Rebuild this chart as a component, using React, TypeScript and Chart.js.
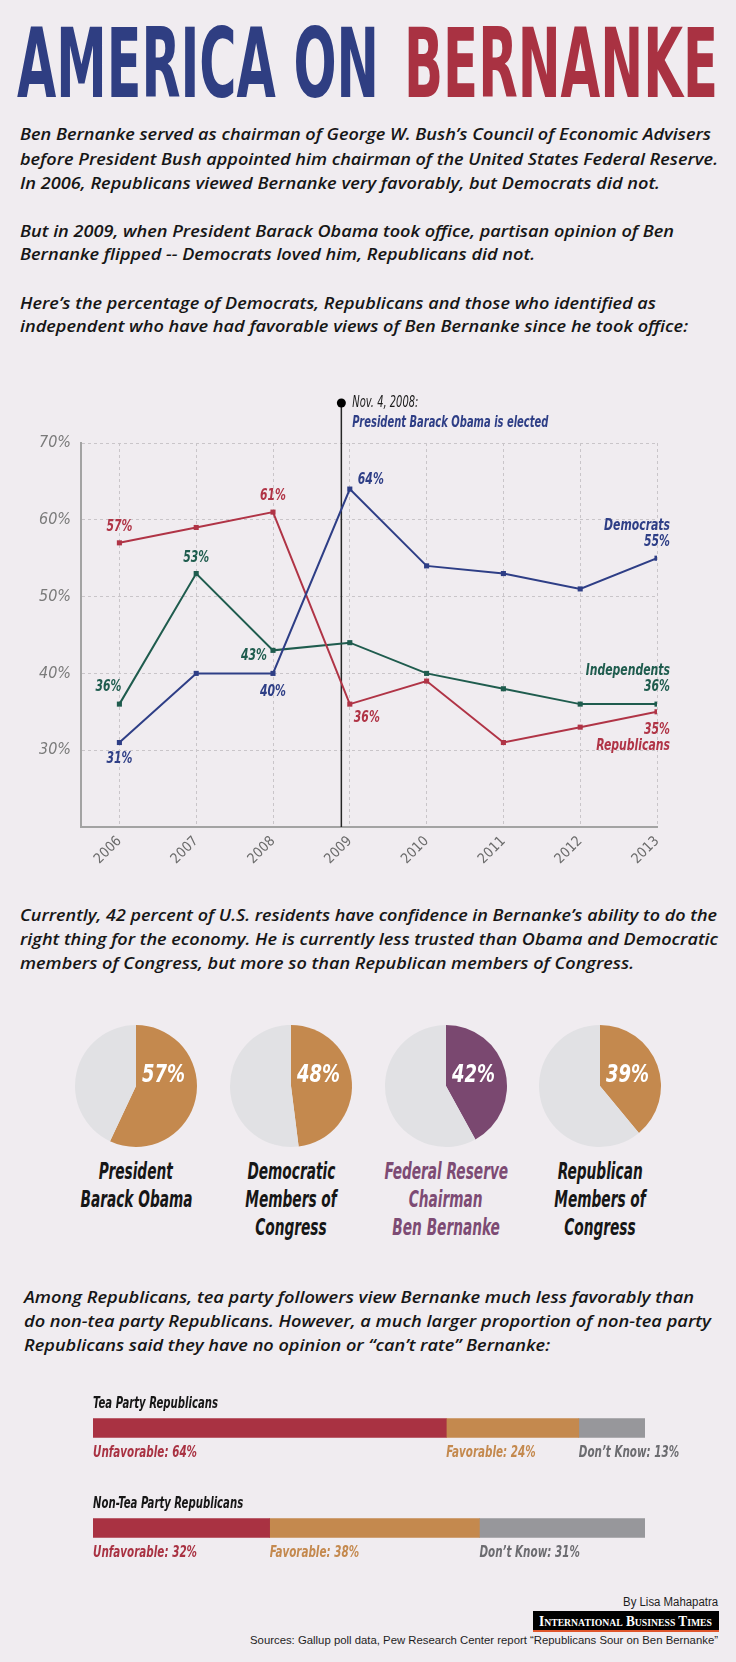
import React, { useEffect, useLayoutEffect, useRef } from 'react';
import { Chart, registerables } from 'chart.js';
Chart.register(...registerables);

// ---------- data ----------
const YEARS = [2006, 2007, 2008, 2009, 2010, 2011, 2012, 2013];
const DEMOCRATS = [31, 40, 40, 64, 54, 53, 51, 55];
const REPUBLICANS = [57, 59, 61, 36, 39, 31, 33, 35];
const INDEPENDENTS = [36, 53, 43, 44, 40, 38, 36, 36];
const Y_TICKS = [20, 30, 40, 50, 60, 70];
const ELECTION_DATE = 2008.89;
const ELECTION_NOTE = 'Nov. 4, 2008:';
const ELECTION_TEXT = 'President Barack Obama is elected';

const PIE_NAMES = [
  ['President', 'Barack Obama'],
  ['Democratic', 'Members of', 'Congress'],
  ['Federal Reserve', 'Chairman', 'Ben Bernanke'],
  ['Republican', 'Members of', 'Congress'],
];
const PIE_VALUES = [57, 48, 42, 39];

const BAR_GROUPS = ['Tea Party Republicans', 'Non-Tea Party Republicans'];
const BAR_SERIES = ['Unfavorable', 'Favorable', 'Don’t Know'];
const UNFAVORABLE = [64, 32];
const FAVORABLE = [24, 38];
const DONT_KNOW = [13, 31];

// ---------- style ----------
const NARROW = "'Liberation Sans Narrow', 'DejaVu Sans Condensed', 'Roboto', sans-serif";
const BODYFONT = "'Open Sans', 'DejaVu Sans Condensed', sans-serif";
const ARIAL = "'Liberation Sans', Arial, sans-serif";
const SERIF = "'Liberation Serif', 'DejaVu Serif', serif";
const BG = '#f0ecf0';
const INK = '#161616';
const T_BLUE = '#2f3e82';
const T_RED = '#a93242';
const BLUE = '#2e3e86';
const RED = '#b03446';
const GREEN = '#1f5c4e';
const TAN = '#c4894e';
const BAR_RED = '#a93242';
const BAR_GRAY = '#97979b';
const PIE_REST = '#e1e1e4';
const PURPLE = '#7a4870';
const PURPLE_TEXT = '#7d4b74';
const GRID = '#c9c5c9';
const AXIS = '#a3a3a3';

// ---------- text component ----------
type TxtProps = {
  x: number; y: number; text: string; size: number; w?: number; refText?: string; refW?: number;
  align?: 'left' | 'center' | 'right'; color?: string; weight?: number; italic?: boolean; family?: string; variant?: string;
};

function Txt({ x, y, text, size, w, refText, refW, align = 'left', color = INK, weight = 400, italic = true, family = NARROW, variant }: TxtProps) {
  const ref = useRef<HTMLSpanElement>(null);
  useLayoutEffect(() => {
    const el = ref.current;
    if (!el) return;
    el.style.transform = 'none';
    let s = 1;
    if (w) {
      const nat = el.getBoundingClientRect().width;
      if (nat) s = w / nat;
    } else if (refText && refW) {
      const probe = el.cloneNode() as HTMLSpanElement;
      probe.textContent = refText;
      probe.style.position = 'absolute';
      probe.style.visibility = 'hidden';
      el.parentElement!.appendChild(probe);
      const nat = probe.getBoundingClientRect().width;
      probe.remove();
      if (nat) s = refW / nat;
    }
    el.style.transform = `scaleX(${s})`;
  }, [text, w, refText, refW, size]);
  const lh = size * 1.2;
  const box: React.CSSProperties = {
    position: 'absolute', top: y - lh / 2, height: lh, lineHeight: `${lh}px`, fontSize: size,
    fontFamily: family, fontWeight: weight, fontStyle: italic ? 'italic' : 'normal',
    fontVariant: variant, color, whiteSpace: 'nowrap',
  };
  if (align === 'left') box.left = x;
  else if (align === 'center') { box.left = x - 500; box.width = 1000; box.textAlign = 'center'; }
  else { box.left = x - 1000; box.width = 1000; box.textAlign = 'right'; }
  const origin = align === 'left' ? 'left center' : align === 'center' ? 'center center' : 'right center';
  return (
    <div style={box}>
      <span ref={ref} style={{ display: 'inline-block', transformOrigin: origin }}>{text}</span>
    </div>
  );
}

// ---------- layout of text ----------
const BODY = [
  { x: 20, y: 134, w: 691, t: 'Ben Bernanke served as chairman of George W. Bush’s Council of Economic Advisers' },
  { x: 20, y: 159, w: 698, t: 'before President Bush appointed him chairman of the United States Federal Reserve.' },
  { x: 20, y: 183, w: 640, t: 'In 2006, Republicans viewed Bernanke very favorably, but Democrats did not.' },
  { x: 20, y: 230.5, w: 654, t: 'But in 2009, when President Barack Obama took office, partisan opinion of Ben' },
  { x: 20, y: 254, w: 515, t: 'Bernanke flipped -- Democrats loved him, Republicans did not.' },
  { x: 20, y: 302.5, w: 636, t: 'Here’s the percentage of Democrats, Republicans and those who identified as' },
  { x: 20, y: 326, w: 668, t: 'independent who have had favorable views of Ben Bernanke since he took office:' },
  { x: 20, y: 915, w: 697, t: 'Currently, 42 percent of U.S. residents have confidence in Bernanke’s ability to do the' },
  { x: 20, y: 939, w: 698, t: 'right thing for the economy. He is currently less trusted than Obama and Democratic' },
  { x: 20, y: 963, w: 614, t: 'members of Congress, but more so than Republican members of Congress.' },
  { x: 24, y: 1297, w: 670, t: 'Among Republicans, tea party followers view Bernanke much less favorably than' },
  { x: 24, y: 1321, w: 687, t: 'do non-tea party Republicans. However, a much larger proportion of non-tea party' },
  { x: 24, y: 1345, w: 526, t: 'Republicans said they have no opinion or “can’t rate” Bernanke:' },
];

const PIE_CX = [136, 291, 446, 600];
const PIE_CY = 1086;
const PIE_R = 61;
const PIE_COLORS = [TAN, TAN, PURPLE, TAN];

// ---------- canvas helpers ----------
function measureScale(ctx: CanvasRenderingContext2D, font: string, text: string, w: number) {
  ctx.save();
  ctx.font = font;
  const m = ctx.measureText(text).width;
  ctx.restore();
  return m ? w / m : 1;
}
function drawText(ctx: CanvasRenderingContext2D, text: string, x: number, y: number, align: CanvasTextAlign, color: string, font: string, sx = 1) {
  ctx.save();
  ctx.translate(x, y);
  ctx.scale(sx, 1);
  ctx.font = font;
  ctx.fillStyle = color;
  ctx.textAlign = align;
  ctx.textBaseline = 'middle';
  ctx.fillText(text, 0, 0);
  ctx.restore();
}

// point-label placement (series index in SERIES, point index)
const POINT_LABELS = [
  { s: 1, i: 0, dx: 0, dy: -16, a: 'center' },
  { s: 1, i: 2, dx: 0, dy: -16, a: 'center' },
  { s: 1, i: 3, dx: 4, dy: 14, a: 'left' },
  { s: 2, i: 1, dx: 0, dy: -16, a: 'center' },
  { s: 2, i: 0, dx: 2, dy: -17, a: 'right' },
  { s: 2, i: 2, dx: -6, dy: 5, a: 'right' },
  { s: 0, i: 3, dx: 8, dy: -9, a: 'left' },
  { s: 0, i: 2, dx: 0, dy: 18, a: 'center' },
  { s: 0, i: 0, dx: 0, dy: 16, a: 'center' },
];
const END_LABELS = [
  { s: 0, nameDy: -32, valDy: -16 },
  { s: 1, nameDy: 34, valDy: 18 },
  { s: 2, nameDy: -33, valDy: -17 },
];

function LineChart() {
  const ref = useRef<HTMLCanvasElement>(null);
  useEffect(() => {
    const SERIES = [
      { name: 'Democrats', data: DEMOCRATS, color: BLUE },
      { name: 'Republicans', data: REPUBLICANS, color: RED },
      { name: 'Independents', data: INDEPENDENTS, color: GREEN },
    ];
    const electionLine = {
      id: 'electionLine',
      beforeDatasetsDraw(chart: any) {
        const { ctx, chartArea } = chart;
        const ex = chart.scales.x.getPixelForValue(ELECTION_DATE);
        ctx.save();
        ctx.strokeStyle = '#262626';
        ctx.lineWidth = 1.5;
        ctx.beginPath();
        ctx.moveTo(ex, chartArea.top - 40);
        ctx.lineTo(ex, chartArea.bottom);
        ctx.stroke();
        ctx.restore();
      },
      afterDatasetsDraw(chart: any) {
        const { ctx, chartArea } = chart;
        const ex = chart.scales.x.getPixelForValue(ELECTION_DATE);
        const dotY = chartArea.top - 40;
        ctx.save();
        ctx.fillStyle = '#000';
        ctx.beginPath();
        ctx.arc(ex, dotY, 4.5, 0, Math.PI * 2);
        ctx.fill();
        ctx.restore();
        const fReg = `italic 16px ${NARROW}`;
        const fBold = `italic bold 16px ${NARROW}`;
        const sxB = measureScale(ctx, fBold, '57%', 26);
        const sxR = measureScale(ctx, fReg, ELECTION_NOTE, 66);
        drawText(ctx, ELECTION_NOTE, ex + 11, dotY, 'left', '#1a1a1a', fReg, sxR);
        drawText(ctx, ELECTION_TEXT, ex + 11, dotY + 20, 'left', BLUE, fBold, measureScale(ctx, fBold, ELECTION_TEXT, 196));
        POINT_LABELS.forEach((p) => {
          const el = chart.getDatasetMeta(p.s).data[p.i];
          const v = SERIES[p.s].data[p.i];
          drawText(ctx, `${v}%`, el.x + p.dx, el.y + p.dy, p.a as CanvasTextAlign, SERIES[p.s].color, fBold, sxB);
        });
        END_LABELS.forEach((e) => {
          const last = SERIES[e.s].data.length - 1;
          const el = chart.getDatasetMeta(e.s).data[last];
          const c = SERIES[e.s].color;
          drawText(ctx, SERIES[e.s].name, el.x + 13, el.y + e.nameDy, 'right', c, fBold, sxB);
          drawText(ctx, `${SERIES[e.s].data[last]}%`, el.x + 13, el.y + e.valDy, 'right', c, fBold, sxB);
        });
      },
    };
    const chart = new Chart(ref.current!, {
      type: 'line',
      data: {
        datasets: SERIES.map((s) => ({
          label: s.name,
          data: YEARS.map((x, i) => ({ x, y: s.data[i] })),
          borderColor: s.color,
          backgroundColor: s.color,
          pointBackgroundColor: s.color,
          borderWidth: 2,
          pointStyle: 'rect',
          pointRadius: 3.6,
          pointBorderWidth: 0,
          tension: 0,
        })),
      },
      options: {
        responsive: false,
        animation: false,
        devicePixelRatio: 1,
        layout: { padding: { left: 0, right: 79, top: 63, bottom: 0 } },
        plugins: { legend: { display: false }, tooltip: { enabled: false } },
        scales: {
          x: {
            type: 'linear', min: 2005.5, max: 2013,
            afterBuildTicks: (s: any) => { s.ticks = YEARS.map((v) => ({ value: v })); },
            afterFit: (s: any) => { s.height = 53; },
            grid: { color: GRID, drawTicks: false, lineWidth: 1 },
            border: { color: AXIS, width: 2, dash: [3, 3] },
            ticks: {
              autoSkip: false, minRotation: 45, maxRotation: 45, padding: 6, color: '#6b6b6b',
              font: { family: NARROW, size: 14 },
              callback: (v: any) => String(v),
            },
          },
          y: {
            min: 20, max: 70,
            afterBuildTicks: (s: any) => { s.ticks = Y_TICKS.map((v) => ({ value: v })); },
            afterFit: (s: any) => { s.width = 81; },
            grid: { color: GRID, drawTicks: false, lineWidth: 1 },
            border: { color: AXIS, width: 2, dash: [3, 3] },
            ticks: {
              padding: 10, color: '#7a7a7a',
              font: { family: NARROW, size: 16, style: 'italic' },
              callback: (v: any) => (v === Y_TICKS[0] ? '' : `${v}%`),
            },
          },
        },
      },
      plugins: [electionLine],
    } as any);
    return () => chart.destroy();
  }, []);
  return <canvas ref={ref} width={736} height={500} style={{ position: 'absolute', left: 0, top: 380, width: 736, height: 500 }} />;
}

function Pie({ value, color, cx }: { value: number; color: string; cx: number }) {
  const ref = useRef<HTMLCanvasElement>(null);
  useEffect(() => {
    const pct = {
      id: 'pct',
      afterDatasetsDraw(chart: any) {
        const arc = chart.getDatasetMeta(0).data[0];
        const ctx = chart.ctx;
        const f = `italic bold 25px ${NARROW}`;
        const sx = measureScale(ctx, f, '57%', 43);
        drawText(ctx, `${value}%`, arc.x + 6, arc.y - 11, 'left', '#ffffff', f, sx);
      },
    };
    const chart = new Chart(ref.current!, {
      type: 'pie',
      data: {
        labels: ['Confidence', 'Other'],
        datasets: [{ data: [value, 100 - value], backgroundColor: [color, PIE_REST], borderWidth: 0 }],
      },
      options: {
        responsive: false, animation: false, devicePixelRatio: 1,
        layout: { padding: 4 },
        plugins: { legend: { display: false }, tooltip: { enabled: false } },
      },
      plugins: [pct],
    } as any);
    return () => chart.destroy();
  }, [value, color]);
  const size = (PIE_R + 4) * 2;
  return <canvas ref={ref} width={size} height={size} style={{ position: 'absolute', left: cx - size / 2, top: PIE_CY - size / 2, width: size, height: size }} />;
}

function BarChart() {
  const ref = useRef<HTMLCanvasElement>(null);
  useEffect(() => {
    const LABEL_COLORS = [BAR_RED, TAN, '#6c6c70'];
    const labels = {
      id: 'barLabels',
      afterDatasetsDraw(chart: any) {
        const ctx = chart.ctx;
        const f = `italic bold 16px ${NARROW}`;
        const sx = measureScale(ctx, f, 'Unfavorable: 64%', 104);
        const sxT = measureScale(ctx, f, BAR_GROUPS[0], 125);
        chart.data.datasets.forEach((ds: any, i: number) => {
          chart.getDatasetMeta(i).data.forEach((el: any, j: number) => {
            const left = Math.min(el.x, el.base);
            drawText(ctx, `${ds.label}: ${ds.data[j]}%`, left, el.y + el.height / 2 + 15, 'left', LABEL_COLORS[i], f, sx);
          });
        });
        chart.getDatasetMeta(0).data.forEach((el: any, j: number) => {
          drawText(ctx, BAR_GROUPS[j], chart.chartArea.left, el.y - el.height / 2 - 15, 'left', INK, f, sxT);
        });
      },
    };
    const chart = new Chart(ref.current!, {
      type: 'bar',
      data: {
        labels: BAR_GROUPS,
        datasets: [
          { label: BAR_SERIES[0], data: UNFAVORABLE, backgroundColor: BAR_RED },
          { label: BAR_SERIES[1], data: FAVORABLE, backgroundColor: TAN },
          { label: BAR_SERIES[2], data: DONT_KNOW, backgroundColor: BAR_GRAY },
        ],
      },
      options: {
        indexAxis: 'y', responsive: false, animation: false, devicePixelRatio: 1,
        layout: { padding: { left: 93, right: 91, top: 0, bottom: 0 } },
        datasets: { bar: { barThickness: 19, borderWidth: 0 } },
        scales: {
          x: { stacked: true, min: 0, max: 100, display: false },
          y: { stacked: true, display: false },
        },
        plugins: { legend: { display: false }, tooltip: { enabled: false } },
      },
      plugins: [labels],
    } as any);
    return () => chart.destroy();
  }, []);
  return <canvas ref={ref} width={736} height={200} style={{ position: 'absolute', left: 0, top: 1378, width: 736, height: 200 }} />;
}

export default function App() {
  useLayoutEffect(() => {
    document.body.style.margin = '0';
    document.body.style.background = BG;
  }, []);
  return (
    <div style={{ position: 'relative', width: 736, height: 1662, background: BG, overflow: 'hidden' }}>
      <Txt x={17} y={65} w={362} text="AMERICA ON" size={96} weight={700} italic={false} color={T_BLUE} />
      <Txt x={404} y={65} w={314} text="BERNANKE" size={96} weight={700} italic={false} color={T_RED} />
      {BODY.map((l, k) => (
        <Txt key={k} x={l.x} y={l.y} w={l.w} text={l.t} size={16.5} weight={600} family={BODYFONT} />
      ))}
      <LineChart />
      {PIE_VALUES.map((v, i) => (
        <Pie key={i} value={v} color={PIE_COLORS[i]} cx={PIE_CX[i]} />
      ))}
      {PIE_NAMES.map((lines, i) =>
        lines.map((t, k) => (
          <Txt key={`${i}-${k}`} x={PIE_CX[i]} y={1172 + 28 * k} text={t} size={23} weight={700} align="center"
            refText="Barack Obama" refW={112} color={i === 2 ? PURPLE_TEXT : INK} />
        ))
      )}
      <BarChart />
      <Txt x={718} y={1602} w={95} text="By Lisa Mahapatra" size={12} italic={false} family={ARIAL} align="right" color="#1e1e1e" />
      <div style={{ position: 'absolute', left: 533, top: 1611, width: 186, height: 19, background: '#000', borderBottom: '2px solid #e0562c' }} />
      <Txt x={539} y={1620.5} w={173} text="International Business Times" size={15} weight={700} italic={false} family={SERIF} variant="small-caps" color="#ffffff" />
      <Txt x={250} y={1641} w={468} text="Sources: Gallup poll data, Pew Research Center report “Republicans Sour on Ben Bernanke”" size={11.5} italic={false} family={ARIAL} color="#1e1e1e" />
    </div>
  );
}
